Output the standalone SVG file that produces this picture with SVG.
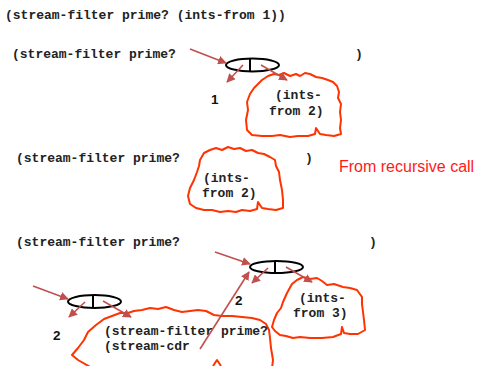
<svg xmlns="http://www.w3.org/2000/svg" width="480" height="366" viewBox="0 0 480 366">
<defs>
<style>
.code{font-family:"Liberation Mono","Courier New",monospace;font-weight:bold;font-size:13px;fill:#222}
.num{font-family:"Liberation Sans",Arial,sans-serif;font-weight:bold;font-size:13.5px;fill:#111}
.note{font-family:"Liberation Sans",Arial,sans-serif;font-size:16px;fill:#FF1A1A}
.cloud{fill:none;stroke:#FF3300;stroke-width:2;stroke-linejoin:round}
.pair{fill:none;stroke:#000;stroke-width:2}
.arr{stroke:#C0504D;stroke-width:1.6;fill:none;marker-end:url(#ah)}
</style>
<marker id="ah" viewBox="0 0 10 10" refX="9" refY="5" markerWidth="5.5" markerHeight="5.5" orient="auto" markerUnits="strokeWidth">
<path d="M0,0 L10,5 L0,10 Z" fill="#C0504D"/>
</marker>
</defs>
<rect width="480" height="366" fill="#fff"/>

<g id="texts">
<text class="code" x="5" y="19">(stream-filter prime? (ints-from 1))</text>
<text class="code" x="12" y="58">(stream-filter prime?</text>
<text class="code" x="355" y="58">)</text>
<text class="code" x="16" y="162">(stream-filter prime?</text>
<text class="code" x="305" y="162">)</text>
<text class="note" x="339" y="172">From recursive call</text>
<text class="code" x="16" y="246">(stream-filter prime?</text>
<text class="code" x="369" y="246">)</text>
</g>

<g id="cloud1">
<path class="cloud" d="M262,80 L268,76 L274,74 L279,75 L284,73 L290,76 L296,74 L300,76 L305,73 L310,74 L316,77 L322,78 L328,80 L333,82 L337,86 L339,92 L338,98 L341,104 L340,112 L341,120 L340,128 L341,134 L334,136 L326,135 L320,134 L316,128 L315,134 L308,136 L298,136 L290,137 L280,135 L272,136 L262,136 L252,135 L247,130 L246,120 L248,110 L247,102 L250,94 L254,88 L258,84 Z"/>
<text class="code" x="275" y="99">(ints-</text>
<text class="code" x="269" y="115">from 2)</text>
</g>

<g id="cloud2">
<path class="cloud" d="M200,160 L204,153 L210,150 L216,148 L222,150 L228,147 L234,149 L240,148 L246,151 L252,150 L258,153 L264,154 L270,157 L275,160 L276,166 L279,172 L280,180 L282,190 L283,200 L283,208 L276,210 L268,209 L262,208 L258,202 L257,209 L250,211 L242,210 L236,212 L228,211 L220,212 L212,210 L204,210 L196,208 L190,204 L188,196 L190,188 L194,180 L197,172 L199,166 Z"/>
<text class="code" x="203" y="182">(ints-</text>
<text class="code" x="202" y="197">from 2)</text>
</g>

<g id="cloud3">
<path class="cloud" d="M287,293 L292,284 L297,280 L303,277 L310,279 L317,278 L322,281 L327,285 L334,284 L343,287 L350,288 L357,290 L362,297 L362,304 L363,312 L364,320 L365,330 L358,334 L350,334 L344,333 L342,327 L341,334 L333,337 L322,338 L310,338 L300,337 L293,338 L286,336 L280,335 L275,331 L272,327 L274,320 L277,313 L281,308 L283,302 Z"/>
<text class="code" x="299" y="302">(ints-</text>
<text class="code" x="293" y="317">from 3)</text>
</g>

<g id="cloud4">
<path class="cloud" d="M92,368 L78,360 L72,355 L78,348 L84,340 L88,332 L96,325 L104,319 L112,316 L120,313 L128,313 L134,311 L142,310 L150,308 L158,309 L166,307 L174,310 L182,312 L190,311 L198,310 L206,311 L214,315 L222,316 L232,316 L242,317 L252,318 L260,320 L266,324 L269,330 L270,338 L271,348 L273,360 L272,368"/>
<path class="cloud" d="M213,366 L217,360 L221,366"/>
<text class="code" x="104" y="335">(stream-filter prime?</text>
<text class="code" x="104" y="350">(stream-cdr</text>
</g>

<g id="pair1">
<ellipse class="pair" cx="252.5" cy="65" rx="26.5" ry="6.5"/>
<line class="pair" x1="250" y1="58" x2="250" y2="72"/>
<text class="num" x="211" y="104">1</text>
</g>

<g id="pair2">
<ellipse class="pair" cx="276.5" cy="267" rx="26.5" ry="6"/>
<line class="pair" x1="275" y1="260.5" x2="275" y2="273.5"/>
<text class="num" x="235" y="305">2</text>
</g>

<g id="pair3">
<ellipse class="pair" cx="94.5" cy="301.5" rx="26.5" ry="6.5"/>
<line class="pair" x1="93" y1="295" x2="93" y2="308"/>
<text class="num" x="53" y="340">2</text>
</g>

<g id="connectors">
<line class="arr" x1="190" y1="49" x2="226" y2="63"/>
<line class="arr" x1="243" y1="65" x2="227" y2="82"/>
<line class="arr" x1="261" y1="65" x2="287" y2="80"/>
<line class="arr" x1="215" y1="252" x2="250" y2="264"/>
<line class="arr" x1="268" y1="268" x2="252" y2="283"/>
<line class="arr" x1="286" y1="267" x2="312" y2="282"/>
<line class="arr" x1="200" y1="349" x2="249" y2="272"/>
<line class="arr" x1="33" y1="286" x2="68" y2="299"/>
<line class="arr" x1="85" y1="302" x2="69" y2="317"/>
<line class="arr" x1="103" y1="301" x2="131" y2="317"/>
</g>
</svg>
